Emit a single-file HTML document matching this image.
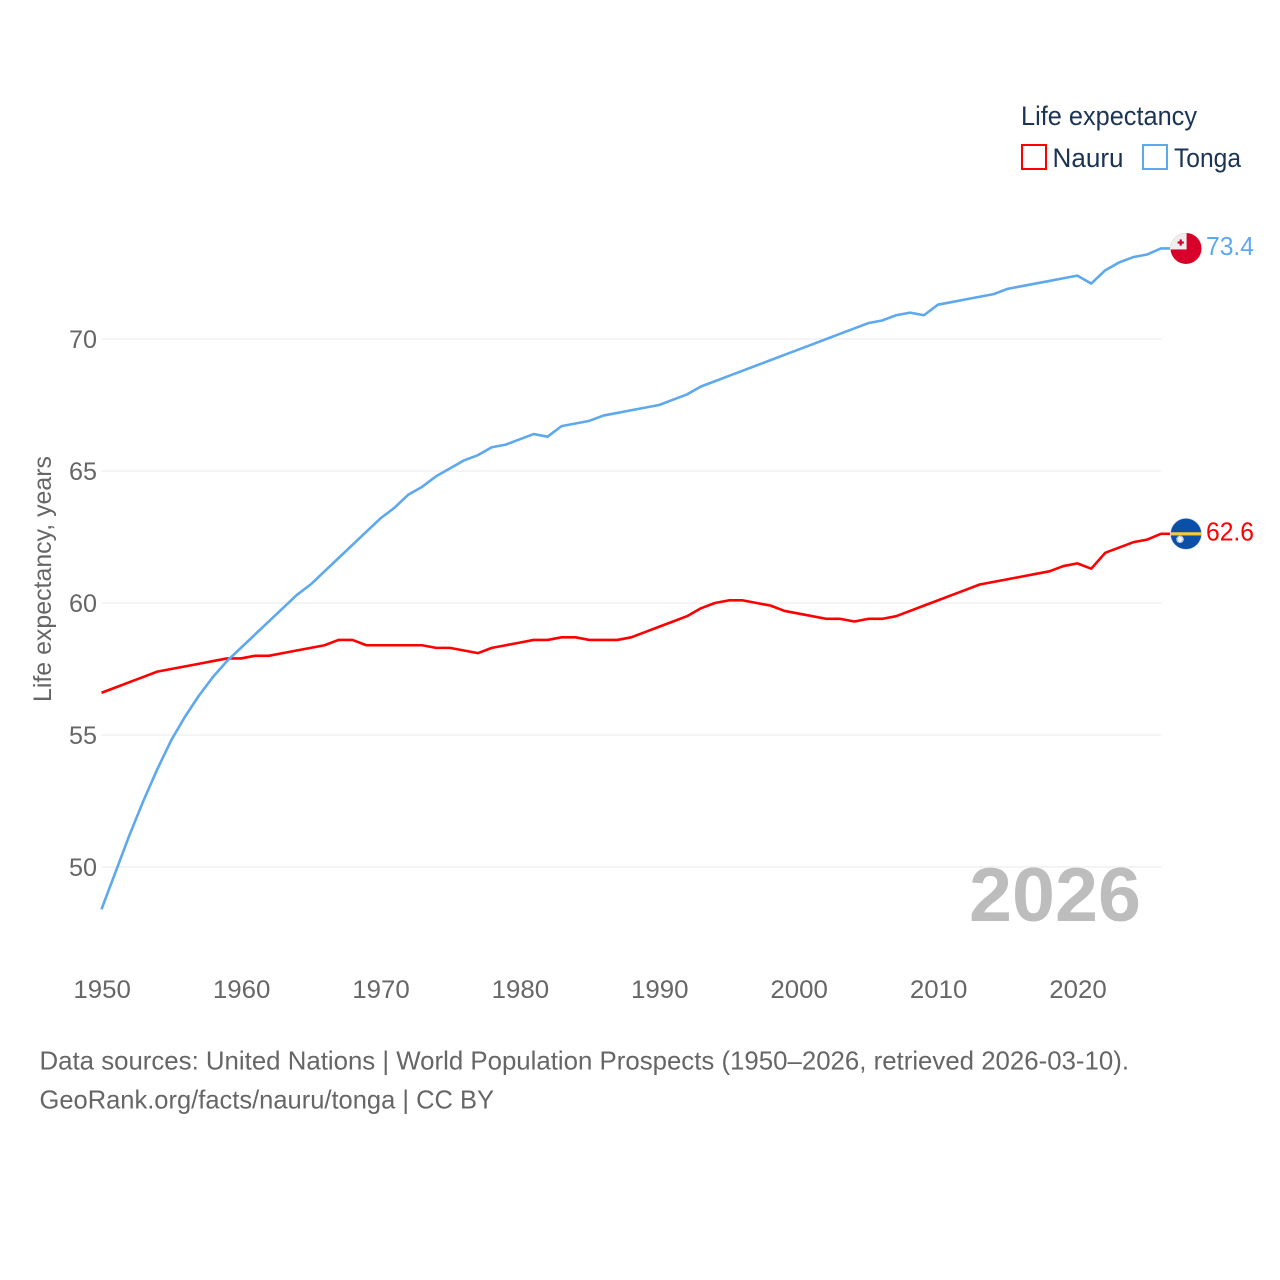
<!DOCTYPE html>
<html lang="en">
<head>
<meta charset="utf-8">
<title>Life expectancy: Nauru and Tonga</title>
<style>
html,body{margin:0;padding:0;background:#fff;}
svg{display:block;}
text{font-family:"Liberation Sans",sans-serif;}
.tick{font-size:25px;fill:#666;}
.legend{font-size:27px;fill:#1b3354;}
.cap{font-size:26px;fill:#666;}
</style>
</head>
<body>
<svg id="chart" width="1280" height="1280" viewBox="0 0 1280 1280" xmlns="http://www.w3.org/2000/svg">
  <defs>
    <clipPath id="flag-clip"><circle cx="0" cy="0" r="15.5"></circle></clipPath>
  </defs>
  <g id="grid"></g>
  <g id="yticks"></g>
  <g id="xticks"></g>
  <text class="tick" transform="translate(51,579) rotate(-90)" text-anchor="middle" textLength="246" lengthAdjust="spacingAndGlyphs">Life expectancy, years</text>
  <text id="year-label" x="969" y="921" font-size="76" font-weight="700" fill="#bdbdbd" textLength="172" lengthAdjust="spacingAndGlyphs">2026</text>
  <g id="series"></g>

  <g id="flag-tonga">
    <g clip-path="url(#flag-clip)">
      <rect x="-16" y="-16" width="32" height="32" fill="#d8002a"></rect>
      <rect x="-16" y="-16" width="16.6" height="17" fill="#eeeeee"></rect>
      <rect x="-6.4" y="-9" width="2.2" height="6.2" fill="#d8002a"></rect>
      <rect x="-8.4" y="-7" width="6.2" height="2.2" fill="#d8002a"></rect>
    </g>
  </g>
  <g id="flag-nauru">
    <g clip-path="url(#flag-clip)">
      <rect x="-16" y="-16" width="32" height="32" fill="#0a50a8"></rect>
      <rect x="-16" y="-1.6" width="32" height="3.2" fill="#f5c93a"></rect>
      <circle cx="-6" cy="5.5" r="2.4" fill="#f4f4f4"></circle>
      <circle cx="-6" cy="5.5" r="3" fill="none" stroke="#f4f4f4" stroke-width="1.4" stroke-dasharray="1.2 0.37"></circle>
    </g>
    <circle cx="0" cy="0" r="15.5" fill="none" stroke="#c9d3df" stroke-width="0.6"></circle>
  </g>
  <text id="value-tonga" x="1206" font-size="26" fill="#5ea8ee" textLength="48" lengthAdjust="spacingAndGlyphs"></text>
  <text id="value-nauru" x="1206" font-size="26" fill="#ff0000" textLength="48" lengthAdjust="spacingAndGlyphs"></text>

  <g>
    <text class="legend" x="1021" y="125" textLength="176" lengthAdjust="spacingAndGlyphs">Life expectancy</text>
    <g>
      <rect x="1022" y="145" width="24" height="24" fill="#fff" stroke="#ff0000" stroke-width="2"></rect>
      <text class="legend" x="1052.5" y="167" textLength="71" lengthAdjust="spacingAndGlyphs">Nauru</text>
    </g>
    <g>
      <rect x="1143" y="145" width="24" height="24" fill="#fff" stroke="#5ea8ee" stroke-width="2"></rect>
      <text class="legend" x="1174" y="167" textLength="67" lengthAdjust="spacingAndGlyphs">Tonga</text>
    </g>
  </g>

  <text class="cap" x="39.5" y="1069.5" textLength="1089.5" lengthAdjust="spacingAndGlyphs">Data sources: United Nations | World Population Prospects (1950–2026, retrieved 2026-03-10).</text>
  <text class="cap" x="39.5" y="1108.5" textLength="454.5" lengthAdjust="spacingAndGlyphs">GeoRank.org/facts/nauru/tonga | CC BY</text>
</svg>
<script>
const startYear = 1950;
const xTickLabels = [1950, 1960, 1970, 1980, 1990, 2000, 2010, 2020];
const yTickLabels = [50, 55, 60, 65, 70];
const nauruValues = [
  56.6, 56.8, 57.0, 57.2, 57.4, 57.5, 57.6, 57.7, 57.8, 57.9,
  57.9, 58.0, 58.0, 58.1, 58.2, 58.3, 58.4, 58.6, 58.6, 58.4,
  58.4, 58.4, 58.4, 58.4, 58.3, 58.3, 58.2, 58.1, 58.3, 58.4,
  58.5, 58.6, 58.6, 58.7, 58.7, 58.6, 58.6, 58.6, 58.7, 58.9,
  59.1, 59.3, 59.5, 59.8, 60.0, 60.1, 60.1, 60.0, 59.9, 59.7,
  59.6, 59.5, 59.4, 59.4, 59.3, 59.4, 59.4, 59.5, 59.7, 59.9,
  60.1, 60.3, 60.5, 60.7, 60.8, 60.9, 61.0, 61.1, 61.2, 61.4,
  61.5, 61.3, 61.9, 62.1, 62.3, 62.4, 62.62
];
const tongaValues = [
  48.4, 49.8, 51.2, 52.5, 53.7, 54.8, 55.7, 56.5, 57.2, 57.8,
  58.3, 58.8, 59.3, 59.8, 60.3, 60.7, 61.2, 61.7, 62.2, 62.7,
  63.2, 63.6, 64.1, 64.4, 64.8, 65.1, 65.4, 65.6, 65.9, 66.0,
  66.2, 66.4, 66.3, 66.7, 66.8, 66.9, 67.1, 67.2, 67.3, 67.4,
  67.5, 67.7, 67.9, 68.2, 68.4, 68.6, 68.8, 69.0, 69.2, 69.4,
  69.6, 69.8, 70.0, 70.2, 70.4, 70.6, 70.7, 70.9, 71.0, 70.9,
  71.3, 71.4, 71.5, 71.6, 71.7, 71.9, 72.0, 72.1, 72.2, 72.3,
  72.4, 72.1, 72.6, 72.9, 73.1, 73.2, 73.43
];

const NS = 'http://www.w3.org/2000/svg';
function xScale(year) { return 101.5 + (year - 1950) * 13.94; }
function yScale(value) { return 339 + (70 - value) * 26.4; }

function drawAxes() {
  const grid = document.getElementById('grid');
  const yG = document.getElementById('yticks');
  const xG = document.getElementById('xticks');
  yTickLabels.forEach(function (v) {
    const line = document.createElementNS(NS, 'line');
    
    
    line.setAttribute('x1', 101.5);
    line.setAttribute('x2', 1161.5);
    line.setAttribute('y1', yScale(v));
    line.setAttribute('y2', yScale(v));
    line.setAttribute('stroke', '#e8e8e8');
    line.setAttribute('stroke-width', 1.1);
    grid.appendChild(line);
    const t = document.createElementNS(NS, 'text');
    
    
    t.setAttribute('class', 'tick');
    t.setAttribute('x', 97);
    t.setAttribute('y', yScale(v) + 9);
    t.setAttribute('text-anchor', 'end');
    t.setAttribute('textLength', 28);
    t.setAttribute('lengthAdjust', 'spacingAndGlyphs');
    t.textContent = v;
    yG.appendChild(t);
  });
  xTickLabels.forEach(function (y) {
    const t = document.createElementNS(NS, 'text');
    
    
    t.setAttribute('class', 'tick');
    t.setAttribute('x', xScale(y) + 0.7);
    t.setAttribute('y', 998);
    t.setAttribute('text-anchor', 'middle');
    t.setAttribute('textLength', 57.5);
    t.setAttribute('lengthAdjust', 'spacingAndGlyphs');
    t.textContent = y;
    xG.appendChild(t);
  });
}

function pointsFor(values) {
  const pts = values.map(function (v, i) {
    return xScale(startYear + i).toFixed(2) + ',' + yScale(v).toFixed(2);
  });
  const last = values[values.length - 1];
  pts.push('1170,' + yScale(last).toFixed(2));
  return pts.join(' ');
}

function drawSeries() {
  const g = document.getElementById('series');
  const nauru = document.createElementNS(NS, 'polyline');
  
  
  nauru.setAttribute('points', pointsFor(nauruValues));
  nauru.setAttribute('fill', 'none');
  nauru.setAttribute('stroke', '#ff0000');
  nauru.setAttribute('stroke-width', 2.6);
  nauru.setAttribute('stroke-linejoin', 'round');
  g.appendChild(nauru);
  const tonga = document.createElementNS(NS, 'polyline');
  
  
  tonga.setAttribute('points', pointsFor(tongaValues));
  tonga.setAttribute('fill', 'none');
  tonga.setAttribute('stroke', '#5ea8ee');
  tonga.setAttribute('stroke-width', 2.6);
  tonga.setAttribute('stroke-linejoin', 'round');
  g.appendChild(tonga);
}

function drawEndLabels() {
  const tLast = tongaValues[tongaValues.length - 1];
  const nLast = nauruValues[nauruValues.length - 1];
  document.getElementById('flag-tonga').setAttribute('transform', 'translate(1186,' + yScale(tLast) + ')');
  document.getElementById('flag-nauru').setAttribute('transform', 'translate(1186,' + yScale(nLast) + ')');
  const vt = document.getElementById('value-tonga');
  vt.setAttribute('y', yScale(tLast) + 6.7);
  vt.textContent = tLast.toFixed(1);
  const vn = document.getElementById('value-nauru');
  vn.setAttribute('y', yScale(nLast) + 6.7);
  vn.textContent = nLast.toFixed(1);
}

drawAxes();
drawSeries();
drawEndLabels();
</script>
</body>
</html>
